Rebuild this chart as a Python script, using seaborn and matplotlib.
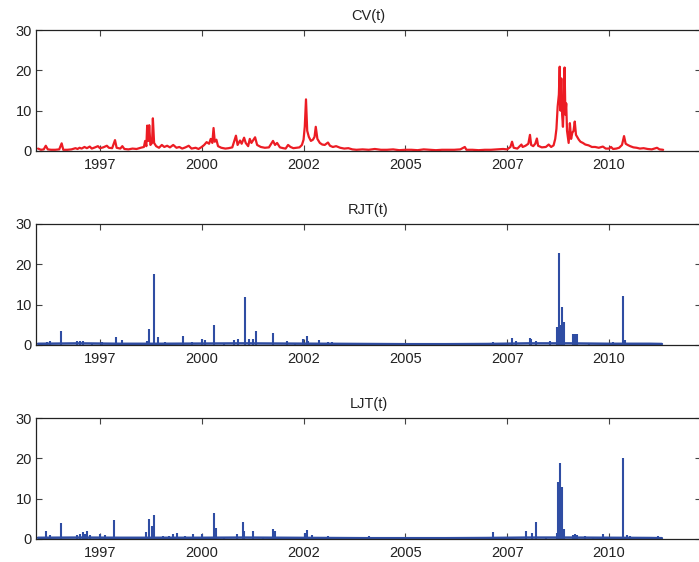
import numpy as np
import pandas as pd
import matplotlib
matplotlib.use("Agg")
import matplotlib.pyplot as plt
import seaborn as sns

# ---------------- data (decimal years) ----------------
cv_dates = [1995.98, 1996.05, 1996.12, 1996.17, 1996.22, 1996.30, 1996.40, 1996.50, 1996.56, 1996.60,
            1996.70, 1996.80, 1996.90, 1996.95, 1997.00, 1997.05, 1997.12, 1997.18, 1997.25, 1997.30,
            1997.38, 1997.45, 1997.50, 1997.58, 1997.67, 1997.72, 1997.80, 1997.87, 1997.91, 1998.00,
            1998.05, 1998.10, 1998.20, 1998.30, 1998.40, 1998.50, 1998.58, 1998.61, 1998.64, 1998.66,
            1998.69, 1998.71, 1998.74, 1998.78, 1998.80, 1998.83, 1998.88, 1998.95, 1999.02, 1999.08,
            1999.15, 1999.22, 1999.30, 1999.38, 1999.45, 1999.52, 1999.60, 1999.68, 1999.75, 1999.85,
            1999.92, 2000.00, 2000.06, 2000.12, 2000.18, 2000.22, 2000.26, 2000.29, 2000.32, 2000.36,
            2000.40, 2000.48, 2000.58, 2000.66, 2000.75, 2000.84, 2000.88, 2000.94, 2000.98, 2001.04,
            2001.08, 2001.14, 2001.18, 2001.22, 2001.31, 2001.36, 2001.45, 2001.55, 2001.65, 2001.75,
            2001.80, 2001.85, 2001.92, 2002.00, 2002.06, 2002.12, 2002.18, 2002.25, 2002.33, 2002.40,
            2002.46, 2002.50, 2002.53, 2002.56, 2002.59, 2002.63, 2002.68, 2002.73, 2002.77, 2002.80,
            2002.84, 2002.90, 2002.96, 2003.02, 2003.10, 2003.15, 2003.22, 2003.30, 2003.40, 2003.50,
            2003.60, 2003.70, 2003.80, 2003.95, 2004.10, 2004.25, 2004.40, 2004.55, 2004.70, 2004.85,
            2005.00, 2005.15, 2005.30, 2005.45, 2005.60, 2005.75, 2005.90, 2006.05, 2006.20, 2006.35,
            2006.46, 2006.50, 2006.65, 2006.80, 2006.95, 2007.10, 2007.25, 2007.40, 2007.50, 2007.58,
            2007.62, 2007.66, 2007.75, 2007.85, 2007.88, 2007.95, 2008.02, 2008.06, 2008.09, 2008.14,
            2008.19, 2008.23, 2008.26, 2008.35, 2008.45, 2008.52, 2008.58, 2008.64, 2008.68, 2008.71,
            2008.74, 2008.77, 2008.79, 2008.81, 2008.83, 2008.85, 2008.87, 2008.89, 2008.91, 2008.93,
            2008.95, 2008.97, 2008.99, 2009.01, 2009.04, 2009.07, 2009.10, 2009.13, 2009.16, 2009.19,
            2009.22, 2009.26, 2009.30, 2009.36, 2009.42, 2009.50, 2009.58, 2009.66, 2009.75, 2009.85,
            2009.92, 2010.00, 2010.05, 2010.10, 2010.18, 2010.25, 2010.32, 2010.37, 2010.41, 2010.46,
            2010.52, 2010.60, 2010.68, 2010.76, 2010.85, 2010.95, 2011.05, 2011.12, 2011.18, 2011.24,
            2011.33]
cv_values = [0.6, 0.3, 0.4, 1.3, 0.4, 0.3, 0.3, 0.4, 1.9, 0.3,
             0.3, 0.4, 0.7, 0.5, 0.8, 0.6, 1.0, 0.7, 1.1, 0.6,
             0.9, 1.2, 0.7, 0.9, 1.3, 0.8, 0.7, 2.7, 0.8, 0.6,
             1.2, 0.5, 0.4, 0.6, 0.5, 0.8, 1.0, 2.5, 1.2, 6.3,
             2.5, 6.4, 1.5, 2.0, 8.1, 2.0, 1.2, 0.8, 1.5, 1.0,
             1.3, 0.9, 1.5, 0.8, 1.0, 0.6, 0.9, 1.3, 0.6, 0.8,
             0.5, 1.0, 1.5, 2.2, 1.8, 3.0, 2.0, 5.7, 2.3, 2.8,
             1.2, 0.8, 0.6, 0.7, 0.9, 3.8, 1.5, 2.6, 1.8, 3.3,
             2.0, 1.2, 3.0, 2.0, 3.4, 1.5, 1.0, 0.8, 0.9, 2.5,
             1.5, 2.0, 0.9, 0.7, 0.6, 1.5, 1.0, 0.7, 0.8, 0.9,
             1.5, 2.8, 6.0, 12.8, 5.0, 3.5, 2.5, 2.8, 3.5, 6.0,
             3.0, 2.0, 1.6, 1.5, 2.1, 1.3, 1.0, 1.2, 0.8, 0.6,
             0.7, 0.4, 0.3, 0.4, 0.3, 0.5, 0.3, 0.3, 0.4, 0.2,
             0.3, 0.3, 0.2, 0.4, 0.3, 0.2, 0.3, 0.3, 0.3, 0.4,
             1.0, 0.3, 0.3, 0.2, 0.3, 0.3, 0.4, 0.5, 0.4, 1.0,
             2.3, 0.8, 0.6, 1.6, 1.0, 1.3, 1.8, 4.0, 1.5, 1.2,
             1.8, 3.1, 1.3, 0.9, 1.0, 1.6, 1.0, 1.4, 3.0, 5.5,
             11.0, 14.0, 20.9, 10.0, 18.0, 9.0, 6.0, 12.0, 20.7, 9.0,
             11.8, 5.0, 3.5, 2.0, 6.9, 3.0, 4.5, 5.0, 7.3, 4.0,
             3.5, 2.8, 2.3, 2.0, 1.6, 1.4, 1.0, 1.0, 0.8, 1.1,
             0.6, 0.6, 1.0, 0.5, 0.6, 0.8, 1.5, 3.7, 1.8, 1.5,
             1.2, 0.9, 0.8, 0.6, 0.7, 0.5, 0.4, 0.6, 0.8, 0.4,
             0.3]

rjt_dates = [1996.20, 1996.27, 1996.54, 1996.94, 1997.00, 1997.08, 1997.30, 1997.55, 1997.89, 1998.04,
             1998.45, 1998.65, 1998.70, 1998.83, 1998.92, 1999.10, 1999.54, 1999.75, 2000.00, 2000.08,
             2000.29, 2000.55, 2000.80, 2000.89, 2001.06, 2001.15, 2001.25, 2001.33, 2001.75, 2002.09,
             2002.30, 2002.48, 2002.58, 2002.62, 2002.88, 2003.10, 2003.20, 2003.45, 2003.70, 2004.11,
             2004.60, 2005.36, 2005.90, 2006.40, 2007.15, 2007.62, 2007.71, 2008.06, 2008.08, 2008.21,
             2008.55, 2008.72, 2008.77, 2008.80, 2008.85, 2008.89, 2009.12, 2009.17, 2009.21, 2009.50,
             2010.10, 2010.35, 2010.40, 2010.84, 2011.18]
rjt_values = [0.7, 1.0, 3.4, 1.0, 1.1, 1.0, 0.6, 0.7, 2.0, 1.2,
              0.5, 1.0, 3.9, 17.7, 2.0, 0.8, 2.2, 0.7, 1.5, 1.2,
              5.0, 0.5, 1.2, 1.5, 11.8, 1.5, 1.6, 3.4, 2.9, 1.0,
              0.6, 1.4, 2.3, 1.0, 1.3, 0.8, 0.8, 0.5, 0.4, 0.5,
              0.4, 0.6, 0.4, 0.5, 0.8, 1.8, 1.1, 1.65, 1.6, 0.9,
              1.0, 4.5, 22.9, 5.0, 9.5, 5.8, 2.7, 2.7, 2.7, 0.6,
              0.8, 12.1, 1.2, 0.5, 0.5]

ljt_dates = [1996.17, 1996.27, 1996.54, 1996.94, 1997.00, 1997.08, 1997.13, 1997.18, 1997.25, 1997.50,
             1997.62, 1997.84, 1998.10, 1998.45, 1998.63, 1998.70, 1998.78, 1998.83, 1999.05, 1999.20,
             1999.30, 1999.39, 1999.60, 1999.78, 2000.00, 2000.29, 2000.34, 2000.55, 2000.86, 2001.01,
             2001.04, 2001.26, 2001.50, 2001.75, 2001.80, 2002.09, 2002.30, 2002.53, 2002.58, 2002.71,
             2002.90, 2003.10, 2003.30, 2003.60, 2004.11, 2004.25, 2005.40, 2005.80, 2006.20, 2006.64,
             2007.15, 2007.30, 2007.62, 2007.96, 2008.11, 2008.21, 2008.45, 2008.72, 2008.75, 2008.80,
             2008.85, 2008.89, 2009.12, 2009.16, 2009.21, 2009.40, 2009.60, 2009.85, 2010.10, 2010.34,
             2010.44, 2010.52, 2010.69, 2011.00, 2011.20]
ljt_values = [2.1, 1.0, 3.9, 1.0, 1.3, 1.7, 1.2, 1.9, 1.0, 1.3,
              1.0, 4.8, 0.5, 0.6, 1.8, 4.9, 3.2, 6.0, 0.8, 0.8,
              1.2, 1.5, 0.7, 1.2, 1.3, 6.4, 2.8, 0.6, 1.2, 4.3,
              2.0, 2.0, 0.6, 2.4, 1.9, 0.5, 0.6, 1.5, 2.3, 1.0,
              0.6, 0.7, 0.5, 0.4, 0.8, 0.5, 0.4, 0.4, 0.5, 0.6,
              1.7, 0.6, 0.6, 2.1, 1.6, 4.1, 0.5, 1.5, 14.2, 18.8,
              13.0, 2.5, 1.0, 1.2, 1.0, 0.7, 0.5, 1.2, 0.6, 20.2,
              1.0, 0.8, 0.5, 0.4, 0.8]

base_dates = [1995.98, 1997.0, 1998.0, 1999.0, 2000.0, 2001.0, 2002.0, 2003.0, 2004.0, 2005.0,
              2006.0, 2007.0, 2008.0, 2009.0, 2010.0, 2011.0, 2011.30]
rjt_base = [0.3, 0.4, 0.3, 0.3, 0.35, 0.4, 0.35, 0.3, 0.25, 0.2, 0.2, 0.25, 0.4, 0.4, 0.3, 0.3, 0.25]
ljt_base = [0.3, 0.35, 0.3, 0.3, 0.3, 0.35, 0.3, 0.25, 0.2, 0.2, 0.2, 0.25, 0.35, 0.35, 0.3, 0.25, 0.2]

titles = ["CV(t)", "RJT(t)", "LJT(t)"]
tick_pos = [1997.5, 2000.0, 2002.5, 2005.0, 2007.5, 2010.0]
tick_labels = ["1997", "2000", "2002", "2005", "2007", "2010"]
y_ticks = [0, 10, 20, 30]

# ---------------- style ----------------
sns.set_theme(style="ticks")
plt.rcParams["font.family"] = ["Liberation Sans", "DejaVu Sans"]
RED = "#ec1c24"
BLUE = "#2f4da3"
TXT = "#222222"

W, H = 699, 562
fig = plt.figure(figsize=(W / 100, H / 100), dpi=100)

def add_panel(top_px):
    bottom = 1 - (top_px + 121) / H
    return fig.add_axes([36 / W, bottom, 665 / W, 121 / H])

axes = [add_panel(30), add_panel(224), add_panel(418)]

cv_df = pd.DataFrame({"date": cv_dates, "value": cv_values})
sns.lineplot(data=cv_df, x="date", y="value", ax=axes[0], color=RED, linewidth=1.6)

for ax, d, v, bd, bv in [(axes[1], rjt_dates, rjt_values, base_dates, rjt_base),
                         (axes[2], ljt_dates, ljt_values, base_dates, ljt_base)]:
    bdf = pd.DataFrame({"date": bd, "value": bv})
    sns.lineplot(data=bdf, x="date", y="value", ax=ax, color=BLUE, linewidth=1.8)
    ax.vlines(d, 0, v, color=BLUE, linewidth=1.5)

for ax, t in zip(axes, titles):
    ax.set_xlim(1995.93, 2012.26)
    ax.set_ylim(0, 30)
    ax.set_xticks(tick_pos)
    ax.set_xticklabels(tick_labels)
    ax.set_yticks(y_ticks)
    ax.set_xlabel("")
    ax.set_ylabel("")
    ax.set_title(t, fontsize=10.5, color=TXT, pad=7)
    ax.tick_params(direction="in", length=4, width=0.8, colors="#444444",
                   labelcolor=TXT, labelsize=10.5, top=True, right=True)
    ax.tick_params(axis="x", pad=5)
    ax.tick_params(axis="y", pad=3)
    for s in ax.spines.values():
        s.set_visible(True)
        s.set_color("#222222")
        s.set_linewidth(0.9)

fig.savefig("out.png", dpi=100)
